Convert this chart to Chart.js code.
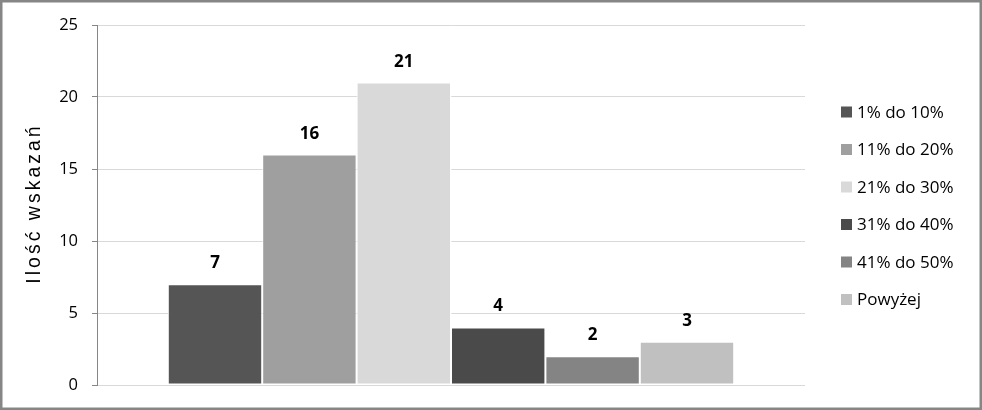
<!DOCTYPE html>
<html>
<head>
<meta charset="utf-8">
<script src="https://cdn.jsdelivr.net/npm/chart.js@4"></script>
<style>
  html, body { margin: 0; padding: 0; background: #fff; }
  #wrap { width: 982px; height: 410px; position: relative; }
</style>
</head>
<body>
<div id="wrap"><canvas id="c" width="982" height="410"></canvas></div>
<script>
// ---- data ----
const seriesNames = ['1% do 10%', '11% do 20%', '21% do 30%', '31% do 40%', '41% do 50%', 'Powyżej'];
const seriesValues = [7, 16, 21, 4, 2, 3];
const seriesColors = ['#555555', '#9f9f9f', '#d9d9d9', '#4a4a4a', '#848484', '#c0c0c0'];
const yTicks = [0, 5, 10, 15, 20, 25];
const yTitle = 'Ilość wskazań';

const FONT = '"Open Sans", "Noto Sans", sans-serif';
const TITLE_FONT = '"Liberation Sans", Arial, sans-serif';

const datasets = seriesNames.map((name, i) => ({
  label: name,
  data: [seriesValues[i]],
  backgroundColor: seriesColors[i],
  borderColor: '#ffffff',
  borderWidth: 1,
  borderSkipped: false,
  categoryPercentage: 0.8,
  barPercentage: 1.0
}));

const framePlugin = {
  id: 'frame',
  beforeDraw(chart) {
    const ctx = chart.ctx;
    ctx.save();
    ctx.fillStyle = '#ffffff';
    ctx.fillRect(0, 0, chart.width, chart.height);
    ctx.restore();
  },
  afterDraw(chart) {
    const ctx = chart.ctx;
    ctx.save();
    ctx.strokeStyle = '#868686';
    ctx.lineWidth = 2.5;
    ctx.strokeRect(1.25, 1.25, chart.width - 2.5, chart.height - 2.5);
    // y-axis title with wide letter spacing
    ctx.font = '19.5px ' + TITLE_FONT;
    ctx.fillStyle = '#000000';
    if ('letterSpacing' in ctx) ctx.letterSpacing = '3px';
    ctx.textAlign = 'center';
    ctx.textBaseline = 'alphabetic';
    const area = chart.chartArea;
    ctx.translate(40, (area.top + area.bottom) / 2);
    ctx.rotate(-Math.PI / 2);
    ctx.fillText(yTitle, 1.5, 0);
    ctx.restore();
  }
};

const labelsPlugin = {
  id: 'valueLabels',
  afterDatasetsDraw(chart) {
    const ctx = chart.ctx;
    ctx.save();
    ctx.font = 'bold 17px ' + FONT;
    ctx.fillStyle = '#000000';
    ctx.textAlign = 'center';
    ctx.textBaseline = 'alphabetic';
    chart.data.datasets.forEach((ds, i) => {
      const meta = chart.getDatasetMeta(i);
      meta.data.forEach((bar, j) => {
        ctx.fillText(String(ds.data[j]), bar.x, bar.y - 16);
      });
    });
    ctx.restore();
  }
};

const legendPlugin = {
  id: 'customLegend',
  afterDraw(chart) {
    const ctx = chart.ctx;
    const boxX = 841, textX = 857, firstY = 112, step = 37.5, box = 11;
    ctx.save();
    ctx.font = '17px ' + FONT;
    ctx.textBaseline = 'middle';
    ctx.textAlign = 'left';
    chart.data.datasets.forEach((ds, i) => {
      const cy = firstY + i * step;
      ctx.fillStyle = ds.backgroundColor;
      ctx.fillRect(boxX, cy - box / 2, box, box);
      ctx.fillStyle = '#000000';
      ctx.fillText(ds.label, textX, cy + 1);
    });
    ctx.restore();
  }
};

new Chart(document.getElementById('c'), {
  type: 'bar',
  data: { labels: [''], datasets },
  options: {
    responsive: false,
    animation: false,
    layout: { padding: { top: 25, bottom: 25, left: 0, right: 177 } },
    plugins: { legend: { display: false }, tooltip: { enabled: false } },
    scales: {
      x: { display: false },
      y: {
        min: yTicks[0],
        max: yTicks[yTicks.length - 1],
        afterFit(scale) { scale.width = 97; },
        afterBuildTicks(scale) { scale.ticks = yTicks.map(v => ({ value: v })); },
        ticks: { stepSize: 5, padding: 14, color: '#000000', font: { family: FONT, size: 16.5 } },
        grid: { color: '#d9d9d9', tickColor: '#868686', tickLength: 5, drawTicks: true, lineWidth: 1 },
        border: { color: '#868686', width: 1 },
        title: { display: false }
      }
    }
  },
  plugins: [framePlugin, labelsPlugin, legendPlugin]
});
</script>
</body>
</html>
